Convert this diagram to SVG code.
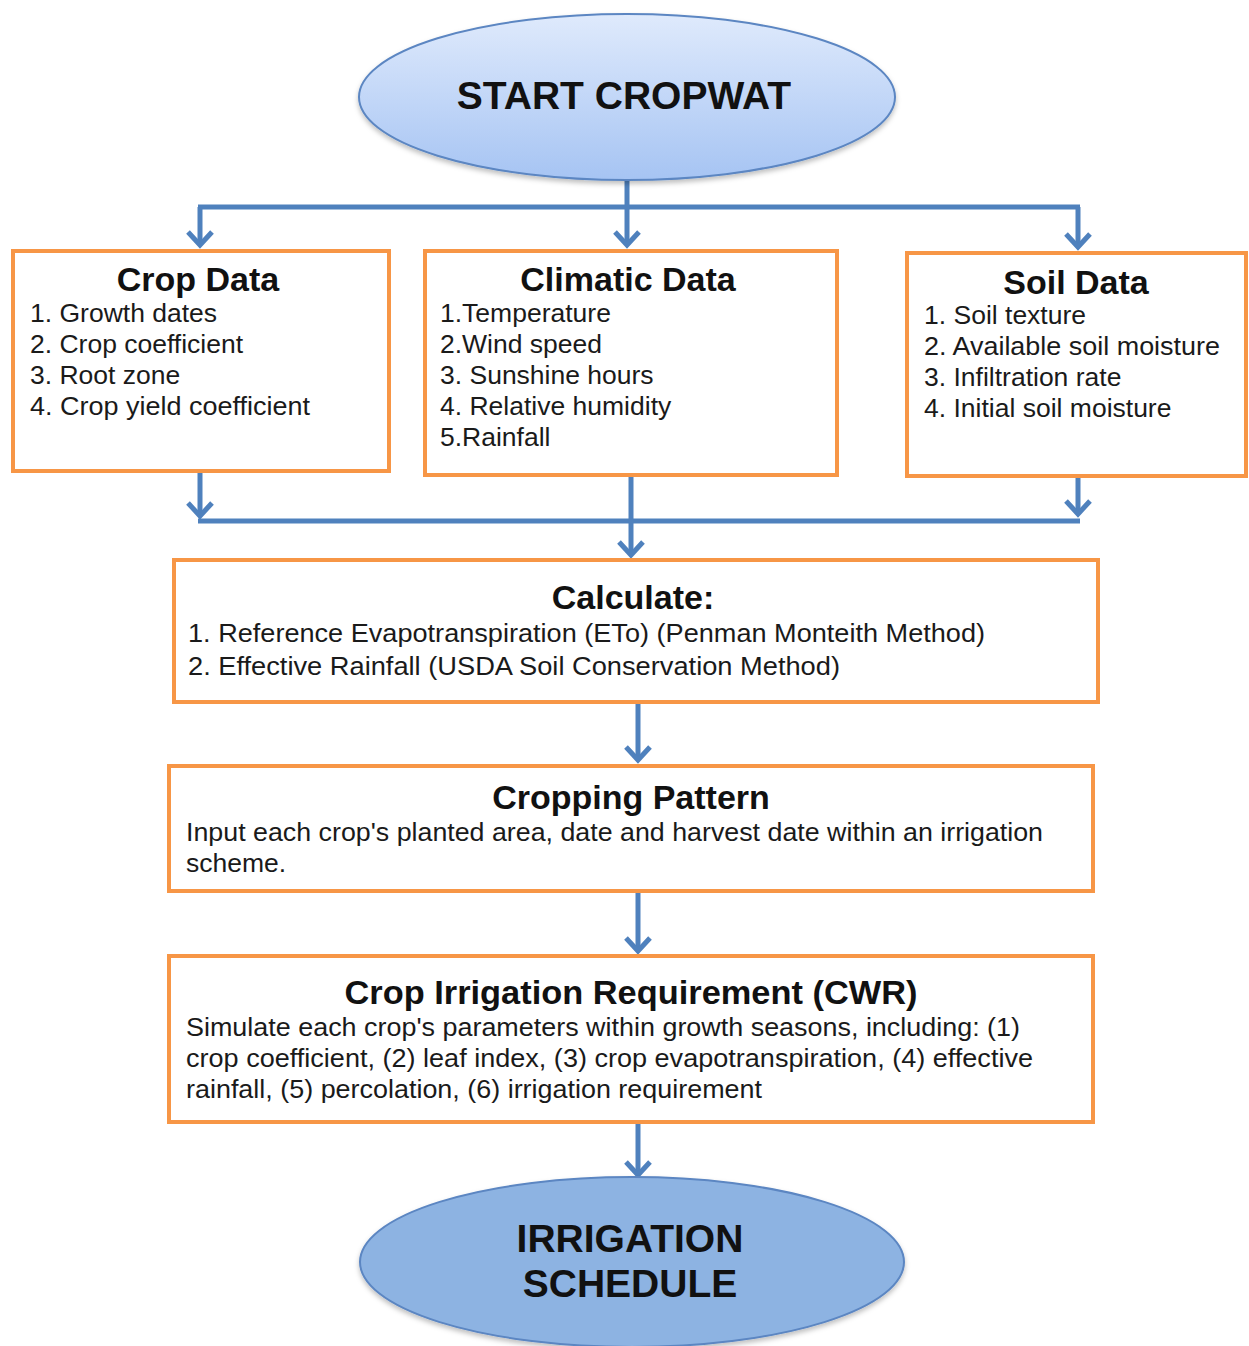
<svg xmlns="http://www.w3.org/2000/svg" width="1249" height="1346" viewBox="0 0 1249 1346">
<defs>
<linearGradient id="startGrad" x1="0" y1="0" x2="0" y2="1">
<stop offset="0" stop-color="#dfeafc"/>
<stop offset="1" stop-color="#a6c4f3"/>
</linearGradient>
<filter id="shadow" x="-5%" y="-5%" width="110%" height="115%">
<feDropShadow dx="0" dy="3" stdDeviation="2.5" flood-color="#000" flood-opacity="0.25"/>
</filter>
<marker id="arrow" markerUnits="userSpaceOnUse" markerWidth="30" markerHeight="30" viewBox="-16 -15 20 30" refX="0" refY="0" orient="auto">
<path d="M-13,-12 L0,0 L-13,12" fill="none" stroke="#4f81bd" stroke-width="5" stroke-linejoin="miter"/>
</marker>
<style>
.box{fill:#fff;stroke:#f79646;stroke-width:4}
.conn{fill:none;stroke:#4f81bd;stroke-width:5}
.title{font-family:"Liberation Sans",Arial,sans-serif;font-weight:bold;fill:#111;text-anchor:middle}
.body{font-family:"Liberation Sans",Arial,sans-serif;font-size:26.5px;fill:#1a1a1a}
.oval{font-family:"Liberation Sans",Arial,sans-serif;font-weight:bold;fill:#111;text-anchor:middle}
</style>
</defs>
<rect width="1249" height="1346" fill="#fff"/>

<g id="connectors">
<path class="conn" d="M627,180 V207 M198,207 H1080"/>
<path class="conn" d="M200,207 V245" marker-end="url(#arrow)"/>
<path class="conn" d="M627,207 V245" marker-end="url(#arrow)"/>
<path class="conn" d="M1078,207 V247" marker-end="url(#arrow)"/>
<path class="conn" d="M200,472 V516" marker-end="url(#arrow)"/>
<path class="conn" d="M1078,477 V514" marker-end="url(#arrow)"/>
<path class="conn" d="M198,521 H1080"/>
<path class="conn" d="M631,476 V555" marker-end="url(#arrow)"/>
<path class="conn" d="M638,703 V760" marker-end="url(#arrow)"/>
<path class="conn" d="M638,892 V951" marker-end="url(#arrow)"/>
<path class="conn" d="M638,1123 V1175" marker-end="url(#arrow)"/>
</g>

<g id="start">
<ellipse cx="627" cy="97" rx="268" ry="83" fill="url(#startGrad)" stroke="#5b86c2" stroke-width="2" filter="url(#shadow)"/>
<text class="oval" x="624" y="109" font-size="39">START CROPWAT</text>
</g>

<g id="crop-data">
<rect class="box" x="13" y="251" width="376" height="220"/>
<text class="title" x="198" y="291" font-size="34">Crop Data</text>
<text class="body" x="30" y="322">1. Growth dates</text>
<text class="body" x="30" y="353">2. Crop coefficient</text>
<text class="body" x="30" y="384">3. Root zone</text>
<text class="body" x="30" y="415" textLength="280" lengthAdjust="spacingAndGlyphs">4. Crop yield coefficient</text>
</g>

<g id="climatic-data">
<rect class="box" x="425" y="251" width="412" height="224"/>
<text class="title" x="628" y="291" font-size="34">Climatic Data</text>
<text class="body" x="440" y="322">1.Temperature</text>
<text class="body" x="440" y="353">2.Wind speed</text>
<text class="body" x="440" y="384">3. Sunshine hours</text>
<text class="body" x="440" y="415">4. Relative humidity</text>
<text class="body" x="440" y="446">5.Rainfall</text>
</g>

<g id="soil-data">
<rect class="box" x="907" y="253" width="339" height="223"/>
<text class="title" x="1076" y="294" font-size="34">Soil Data</text>
<text class="body" x="924" y="324">1. Soil texture</text>
<text class="body" x="924" y="355" textLength="296" lengthAdjust="spacingAndGlyphs">2. Available soil moisture</text>
<text class="body" x="924" y="386">3. Infiltration rate</text>
<text class="body" x="924" y="417">4. Initial  soil moisture</text>
</g>

<g id="calculate">
<rect class="box" x="174" y="560" width="924" height="142"/>
<text class="title" x="633" y="609" font-size="34">Calculate:</text>
<text class="body" x="188" y="642" textLength="797" lengthAdjust="spacingAndGlyphs">1. Reference Evapotranspiration (ETo) (Penman Monteith Method)</text>
<text class="body" x="188" y="675" textLength="652" lengthAdjust="spacingAndGlyphs">2. Effective Rainfall  (USDA Soil Conservation Method)</text>
</g>

<g id="cropping-pattern">
<rect class="box" x="169" y="766" width="924" height="125"/>
<text class="title" x="631" y="809" font-size="34">Cropping Pattern</text>
<text class="body" x="186" y="841" textLength="857" lengthAdjust="spacingAndGlyphs">Input each crop's planted  area, date  and harvest date within an irrigation</text>
<text class="body" x="186" y="872">scheme.</text>
</g>

<g id="cwr">
<rect class="box" x="169" y="956" width="924" height="166"/>
<text class="title" x="631" y="1004" font-size="34" textLength="573" lengthAdjust="spacingAndGlyphs">Crop Irrigation Requirement (CWR)</text>
<text class="body" x="186" y="1036" textLength="834" lengthAdjust="spacingAndGlyphs">Simulate each crop's parameters within growth seasons,  including:  (1)</text>
<text class="body" x="186" y="1067" textLength="847" lengthAdjust="spacingAndGlyphs">crop coefficient, (2) leaf index, (3) crop evapotranspiration,  (4) effective</text>
<text class="body" x="186" y="1098" textLength="576" lengthAdjust="spacingAndGlyphs">rainfall, (5) percolation,  (6) irrigation  requirement</text>
</g>

<g id="irrigation-schedule">
<ellipse cx="632" cy="1262" rx="272" ry="85" fill="#8db3e2" stroke="#5b86c2" stroke-width="2" filter="url(#shadow)"/>
<text class="oval" x="630" y="1252" font-size="39">IRRIGATION</text>
<text class="oval" x="630" y="1297" font-size="39">SCHEDULE</text>
</g>
</svg>
